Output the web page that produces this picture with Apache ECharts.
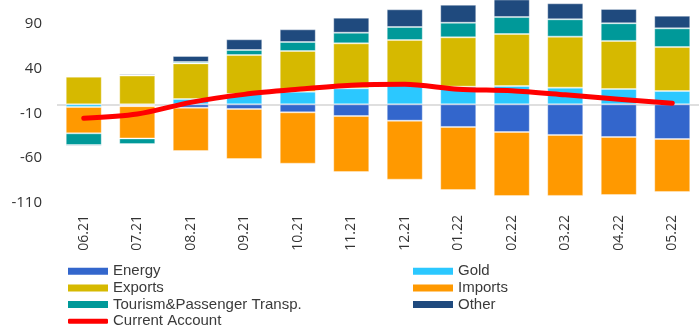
<!DOCTYPE html>
<html>
<head>
<meta charset="utf-8">
<script src="https://cdn.jsdelivr.net/npm/echarts@6/dist/echarts.min.js"></script>
<style>
html,body{margin:0;padding:0;background:#fff;}
#c{width:699px;height:331px;}
</style>
</head>
<body>
<div id="c"></div>
<script>
var categories = ['06.21','07.21','08.21','09.21','10.21','11.21','12.21','01.22','02.22','03.22','04.22','05.22'];
var energy  = [0, -1, -3.7, -5.2, -8.9, -13, -18.2, -25.2, -30.8, -34.1, -36.4, -38.6];
var gold    = [-3, -1, 5.9, 11.5, 14.1, 17.8, 21.5, 19.7, 20.4, 18.6, 17.1, 14.8];
var exportsV = [30.8, 32, 39.7, 43.4, 45.3, 50.1, 50.1, 54.9, 57.9, 56.8, 53.5, 49];
var imports = [-29.3, -36, -48.3, -55.7, -57.2, -62.4, -65.7, -70.2, -71.3, -67.9, -64.6, -59];
var tourism = [-13, -6.3, 1.5, 5.6, 10, 11.9, 14.5, 16.3, 18.9, 19.3, 19.7, 20.8];
var other   = [-1.5, 1.5, 6.7, 11.9, 14.1, 16.7, 19.7, 20, 21, 17.8, 16, 14.1];
var currentAccount = [-15.6, -10.8, 2.2, 11.1, 16.7, 21.2, 22.3, 16.8, 15.2, 10.6, 5.6, 1.1];
var yTicks = {min: -110, max: 116.2, interval: 50};

var colors = {
  'Energy': '#3366CC',
  'Gold': '#2BC8FF',
  'Exports': '#D6B900',
  'Imports': '#FF9900',
  'Tourism&Passenger Transp.': '#009999',
  'Other': '#1F4A7E',
  'Current Account': '#FF0000'
};

function bar(name, data, withMark) {
  var s = {
    name: name, type: 'bar', stack: 'total', data: data, barWidth: 36,
    itemStyle: {color: colors[name], borderColor: 'rgba(255,255,255,0.35)', borderWidth: 1},
    emphasis: {disabled: true}
  };
  if (withMark) {
    s.markLine = {
      silent: true, symbol: 'none', label: {show: false},
      lineStyle: {color: '#d4d4d4', type: 'solid', width: 1.5},
      data: [{yAxis: 0}], z: 1
    };
  }
  return s;
}

var legendFont = {fontFamily: 'Liberation Sans', fontSize: 15, color: '#3a3a3a', lineHeight: 14};
function leg(name, left, cy, isLine) {
  var h = isLine ? 5 : 7;
  return {
    data: [{name: name, icon: isLine ? 'roundRect' : 'rect', itemStyle: {color: colors[name], borderWidth: 0}}],
    left: left, top: cy - 7, padding: 0, itemWidth: 40, itemHeight: h, itemGap: 5,
    textStyle: legendFont, selectedMode: false
  };
}

var chart = echarts.init(document.getElementById('c'), null, {renderer: 'canvas'});
chart.setOption({
  animation: false,
  grid: {left: 57, right: -1, top: 0, bottom: 127.9, containLabel: false},
  legend: [
    leg('Energy', 68, 270.7),
    leg('Exports', 68, 287.4),
    leg('Tourism&Passenger Transp.', 68, 304.1),
    leg('Current Account', 68, 320.8, true),
    leg('Gold', 413, 270.7),
    leg('Imports', 413, 287.4),
    leg('Other', 413, 304.1)
  ],
  xAxis: {
    type: 'category', data: categories, boundaryGap: true,
    axisLine: {show: false, onZero: false}, axisTick: {show: false},
    axisLabel: {rotate: 90, margin: 12, fontFamily: 'Open Sans', fontSize: 14, color: '#333'}
  },
  yAxis: {
    type: 'value', min: yTicks.min, max: yTicks.max, interval: yTicks.interval,
    axisLine: {show: false}, axisTick: {show: false}, splitLine: {show: false},
    axisLabel: {margin: 15, fontFamily: 'Open Sans', fontSize: 15, color: '#333', showMaxLabel: false}
  },
  series: [
    bar('Energy', energy, true),
    bar('Gold', gold),
    bar('Exports', exportsV),
    bar('Imports', imports),
    bar('Tourism&Passenger Transp.', tourism),
    bar('Other', other),
    {
      name: 'Current Account', type: 'line', data: currentAccount, smooth: 0.3,
      symbol: 'none', z: 10,
      lineStyle: {color: colors['Current Account'], width: 5, cap: 'round', join: 'round'},
      itemStyle: {color: colors['Current Account']},
      emphasis: {disabled: true}
    }
  ]
});
</script>
</body>
</html>
